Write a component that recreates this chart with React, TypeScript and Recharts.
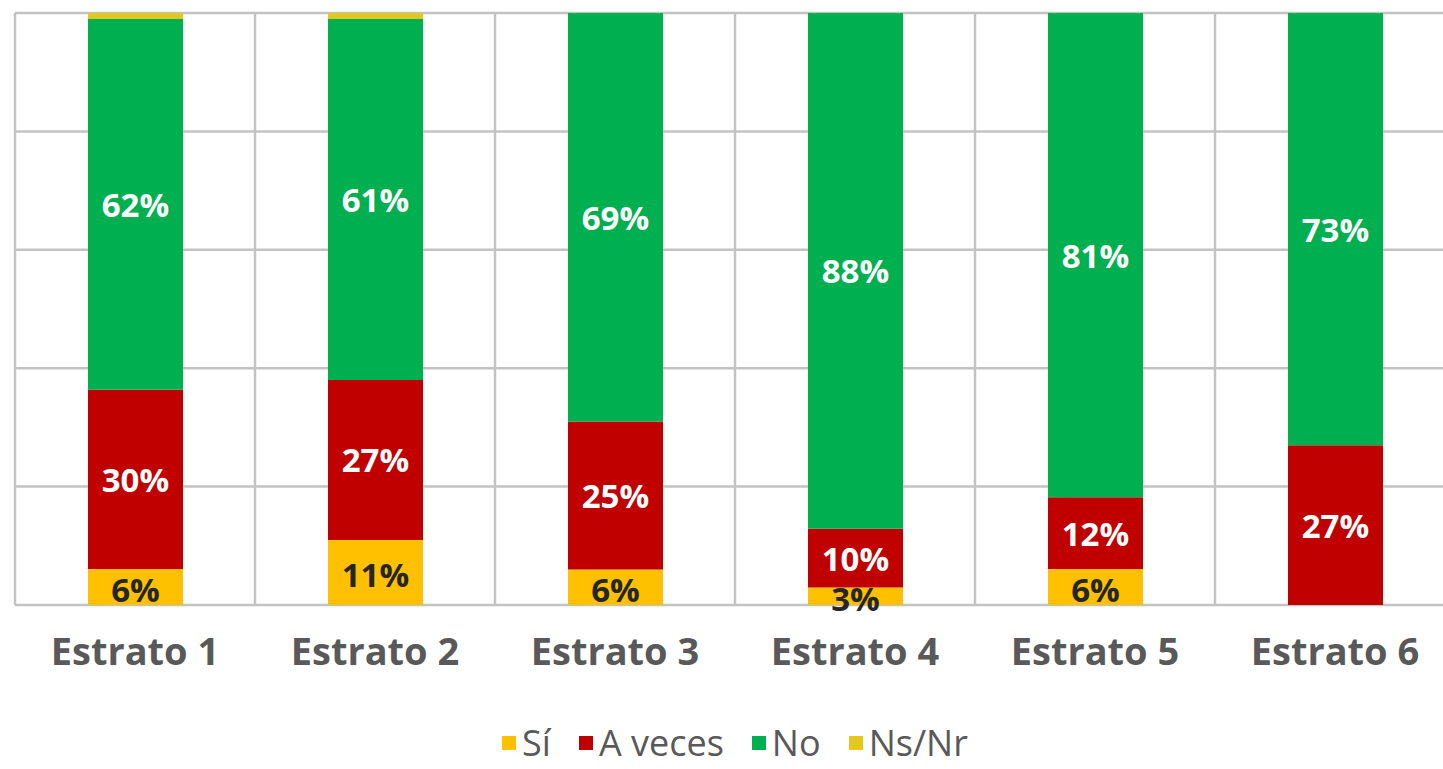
import { BarChart, Bar, XAxis, YAxis, CartesianGrid, Legend, LabelList } from 'recharts';

const estratos = ['Estrato 1', 'Estrato 2', 'Estrato 3', 'Estrato 4', 'Estrato 5', 'Estrato 6'];
const si = [6, 11, 6, 3, 6, 0];
const aVeces = [30, 27, 25, 10, 12, 27];
const no = [62, 61, 69, 88, 81, 73];
const nsNr = [1, 1, 0, 0, 0, 0];
const seriesOrder = ['Sí', 'A veces', 'No', 'Ns/Nr'];
const yTicks = [0, 0.2, 0.4, 0.6, 0.8, 1];

const data = estratos.map((name, i) => ({ name, si: si[i], aVeces: aVeces[i], no: no[i], nsNr: nsNr[i] }));

const FONT = '"Open Sans", "DejaVu Sans", sans-serif';

const pctLabel = (color: string, dy = 0) => (props: any) => {
  const { x, y, width, height, value } = props;
  if (!value) return null;
  return (
    <text
      x={x + width / 2}
      y={y + height / 2 + dy}
      textAnchor="middle"
      dominantBaseline="central"
      fill={color}
      fontFamily={FONT}
      fontWeight="bold"
      fontSize={33}
    >
      {value}%
    </text>
  );
};

function EstratoTick(props: any) {
  const { x, y, payload } = props;
  return (
    <text x={x} y={y + 37} textAnchor="middle" dominantBaseline="central" fill="#595959"
      fontFamily={FONT} fontWeight="bold" fontSize={38}>
      {payload.value}
    </text>
  );
}

function LegendBox({ payload }: any) {
  const items = [...(payload || [])].sort(
    (a: any, b: any) => seriesOrder.indexOf(a.value) - seriesOrder.indexOf(b.value)
  );
  return (
    <div style={{ display: 'flex', justifyContent: 'center', gap: 28, fontFamily: FONT, fontSize: 36, lineHeight: 1, color: '#595959', height: 44, alignItems: 'flex-start', paddingLeft: 0 }}>
      {items.map((p: any) => (
        <span key={p.value} style={{ display: 'flex', alignItems: 'center', lineHeight: 1 }}>
          <span style={{ width: 14, height: 14, background: p.color, marginRight: 6, display: 'inline-block' }} />
          {p.value}
        </span>
      ))}
    </div>
  );
}

// vertical grid lines on category boundaries
const boundaryLines = ({ offset }: any) =>
  Array.from({ length: estratos.length + 1 }, (_, i) => offset.left + (offset.width * i) / estratos.length);

export default function App() {
  return (
    <div style={{ position: 'absolute', left: 0, top: 0, width: 1443, height: 769, overflow: 'hidden', background: '#fff' }}>
      <BarChart width={1460} height={769} data={data} stackOffset="expand" barSize={95}
        margin={{ top: 13, right: 5, left: 15, bottom: 0 }}>
        <XAxis dataKey="name" axisLine={false} tickLine={false} tick={<EstratoTick />} height={120} interval={0} />
        <YAxis domain={[0, 1]} ticks={yTicks} hide />
        <CartesianGrid stroke="#c3c3c3" strokeWidth={2.5} verticalCoordinatesGenerator={boundaryLines} />
        <Legend content={<LegendBox />} verticalAlign="bottom" />
        <Bar dataKey="si" name="Sí" stackId="a" fill="#FFC000" isAnimationActive={false}>
          <LabelList dataKey="si" content={pctLabel('#262626', 2)} />
        </Bar>
        <Bar dataKey="aVeces" name="A veces" stackId="a" fill="#C00000" isAnimationActive={false}>
          <LabelList dataKey="aVeces" content={pctLabel('#ffffff')} />
        </Bar>
        <Bar dataKey="no" name="No" stackId="a" fill="#00B050" isAnimationActive={false}>
          <LabelList dataKey="no" content={pctLabel('#ffffff')} />
        </Bar>
        <Bar dataKey="nsNr" name="Ns/Nr" stackId="a" fill="#E4C81E" isAnimationActive={false} />
      </BarChart>
    </div>
  );
}
